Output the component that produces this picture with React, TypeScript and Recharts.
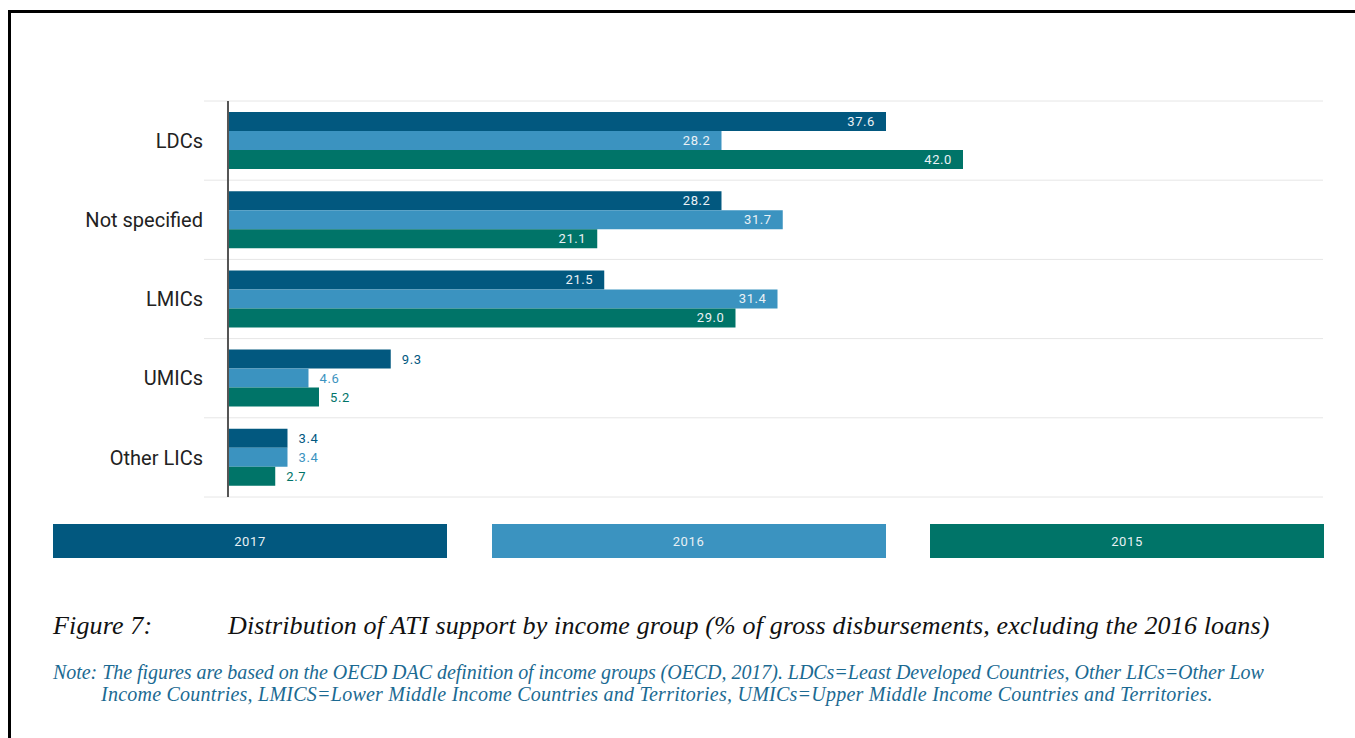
import React from "react";
import { Bar, BarChart, CartesianGrid, LabelList, ReferenceLine, XAxis, YAxis } from "recharts";

const groups = ["LDCs", "Not specified", "LMICs", "UMICs", "Other LICs"];
const years = ["2017", "2016", "2015"];
const values2017 = [37.6, 28.2, 21.5, 9.3, 3.4];
const values2016 = [28.2, 31.7, 31.4, 4.6, 3.4];
const values2015 = [42.0, 21.1, 29.0, 5.2, 2.7];
const colors = ["#02587f", "#3b93c0", "#007468"];

const data = groups.map((g, i) => ({
  group: g,
  "2017": values2017[i],
  "2016": values2016[i],
  "2015": values2015[i],
}));

const sans = "Roboto, 'Noto Sans', sans-serif";
const serif = "'Liberation Serif', 'DejaVu Serif', serif";

function makeLabel(color: string) {
  return (props: any) => {
    const { x, y, width, height, value } = props;
    const inside = value > 15;
    return (
      <text
        x={inside ? x + width - 11 : x + width + 11}
        y={y + height / 2}
        dy="0.35em"
        textAnchor={inside ? "end" : "start"}
        fill={inside ? "#eaf1f5" : color}
        fontSize={13}
        fontFamily={sans}
        letterSpacing={0.6}
      >
        {Number(value).toFixed(1)}
      </text>
    );
  };
}

const captionStyle: React.CSSProperties = {
  position: "absolute",
  top: 600,
  fontFamily: serif,
  fontStyle: "italic",
  fontSize: 26,
  lineHeight: "26px",
  letterSpacing: 0.15,
  color: "#111",
  whiteSpace: "nowrap",
};

const noteStyle: React.CSSProperties = {
  position: "absolute",
  fontFamily: serif,
  fontStyle: "italic",
  fontSize: 20,
  lineHeight: "20px",
  color: "#1b6a92",
  whiteSpace: "nowrap",
};

export default function App() {
  return (
    <div
      style={{
        position: "fixed",
        left: 8,
        top: 10,
        width: 1400,
        height: 800,
        borderTop: "3px solid #000",
        borderLeft: "3px solid #000",
        background: "#fff",
      }}
    >
      <div style={{ position: "absolute", left: 0, top: 0 }}>
        <BarChart
          width={1330}
          height={500}
          data={data}
          layout="vertical"
          margin={{ top: 88, right: 18, bottom: 16, left: 0 }}
          barSize={19}
          barGap={0}
        >
          <CartesianGrid
            vertical={false}
            stroke="#e6e6e6"
            horizontalCoordinatesGenerator={({ offset }: any) =>
              Array.from({ length: groups.length + 1 }, (_, i) => offset.top + (i * offset.height) / groups.length)
            }
          />
          <XAxis type="number" hide domain={[-1.371, 62.571]} allowDataOverflow />
          <YAxis
            type="category"
            dataKey="group"
            width={193}
            axisLine={false}
            tickLine={false}
            tickSize={0}
            tickMargin={1}
            tick={{ fill: "#222", fontSize: 20, fontFamily: sans }}
          />
          {years.map((yr, i) => (
            <Bar key={yr} dataKey={yr} fill={colors[i]} isAnimationActive={false}>
              <LabelList dataKey={yr} content={makeLabel(colors[i])} />
            </Bar>
          ))}
          <ReferenceLine x={0} stroke="#555" strokeWidth={2} />
        </BarChart>
      </div>

      {years.map((yr, i) => (
        <div
          key={yr}
          style={{
            position: "absolute",
            left: 42 + i * 438.5,
            top: 511,
            width: 394,
            height: 34,
            background: colors[i],
            color: "#e8f0f4",
            fontFamily: sans,
            fontSize: 13,
            letterSpacing: 0.6,
            display: "flex",
            alignItems: "center",
            justifyContent: "center",
          }}
        >
          {yr}
        </div>
      ))}

      <div style={{ ...captionStyle, left: 42 }}>Figure 7:</div>
      <div style={{ ...captionStyle, left: 217 }}>
        Distribution of ATI support by income group (% of gross disbursements, excluding the 2016 loans)
      </div>
      <div style={{ ...noteStyle, left: 42, top: 649, letterSpacing: -0.04 }}>
        Note: The figures are based on the OECD DAC definition of income groups (OECD, 2017). LDCs=Least Developed Countries, Other LICs=Other Low
      </div>
      <div style={{ ...noteStyle, left: 90, top: 671, letterSpacing: 0.24 }}>
        Income Countries, LMICS=Lower Middle Income Countries and Territories, UMICs=Upper Middle Income Countries and Territories.
      </div>
    </div>
  );
}
